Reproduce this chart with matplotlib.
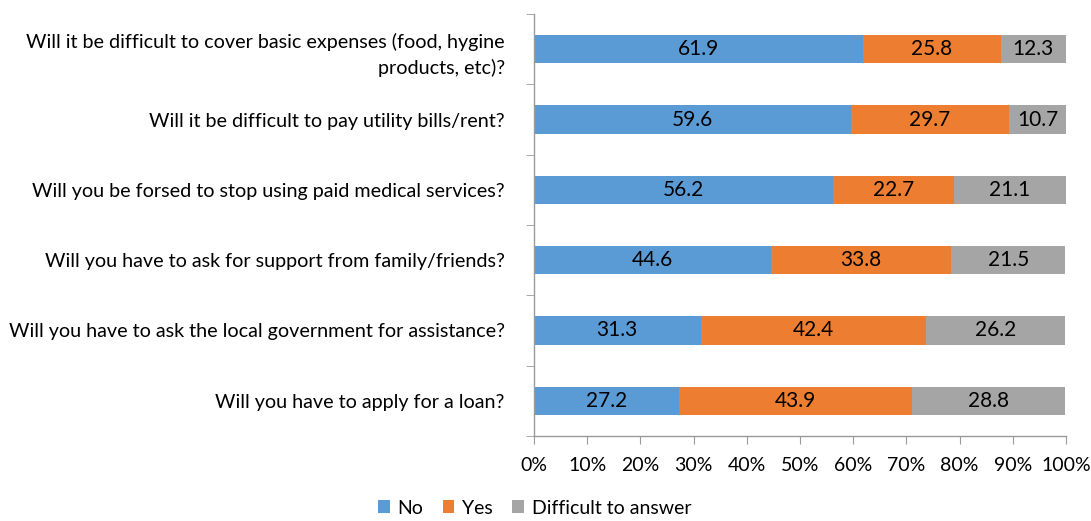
import matplotlib
matplotlib.use("Agg")
import matplotlib.pyplot as plt
import numpy as np

plt.rcParams['font.family'] = ['Lato', 'DejaVu Sans']

questions = [
    "Will it be difficult to cover basic expenses (food, hygine\nproducts, etc)?",
    "Will it be difficult to pay utility bills/rent?",
    "Will you be forsed to stop using paid medical services?",
    "Will you have to ask for support from family/friends?",
    "Will you have to ask the local government for assistance?",
    "Will you have to apply for a loan?",
]
no_vals = [61.9, 59.6, 56.2, 44.6, 31.3, 27.2]
yes_vals = [25.8, 29.7, 22.7, 33.8, 42.4, 43.9]
dta_vals = [12.3, 10.7, 21.1, 21.5, 26.2, 28.8]
series_names = ["No", "Yes", "Difficult to answer"]
colors = ["#5B9BD5", "#ED7D31", "#A5A5A5"]
x_ticks = list(range(0, 101, 10))

fig = plt.figure(figsize=(10.91, 5.21), dpi=100)
ax = fig.add_axes([534 / 1091, 1 - 436 / 521, (1066 - 534) / 1091, (436 - 14) / 521])

n = len(questions)
y = np.arange(n)[::-1]
left = np.zeros(n)
for vals, name, col in zip([no_vals, yes_vals, dta_vals], series_names, colors):
    vals = np.array(vals)
    ax.barh(y, vals, left=left, height=0.4, color=col, label=name)
    for yi, l, v in zip(y, left, vals):
        ax.text(l + v / 2, yi, f"{v:.1f}", ha="center", va="center",
                fontsize=15, color="black")
    left = left + vals

ax.set_xlim(0, 100)
ax.set_ylim(-0.5, n - 0.5)
ax.set_xticks(x_ticks)
ax.set_xticklabels([f"{t}%" for t in x_ticks], fontsize=14)
ax.set_yticks(y)
ax.set_yticklabels(questions, fontsize=14.2, ha="right", multialignment="right",
                   linespacing=1.55)
ax.tick_params(axis="y", length=0, pad=21)
ax.set_yticks(np.arange(-0.5, n, 1), minor=True)
ax.tick_params(axis="y", which="minor", length=6, color="#9A9A9A", direction="out")
ax.tick_params(axis="x", length=6, color="#9A9A9A", direction="out", pad=9)

for s in ["top", "right"]:
    ax.spines[s].set_visible(False)
for s in ["left", "bottom"]:
    ax.spines[s].set_color("#9A9A9A")
    ax.spines[s].set_linewidth(1.0)

fig.legend(loc="lower center", bbox_to_anchor=(0.49, -0.025), ncol=3, frameon=False,
           fontsize=14, handlelength=0.6, handleheight=0.6, handletextpad=0.4,
           columnspacing=1.0)

fig.savefig("out.png", dpi=100)
